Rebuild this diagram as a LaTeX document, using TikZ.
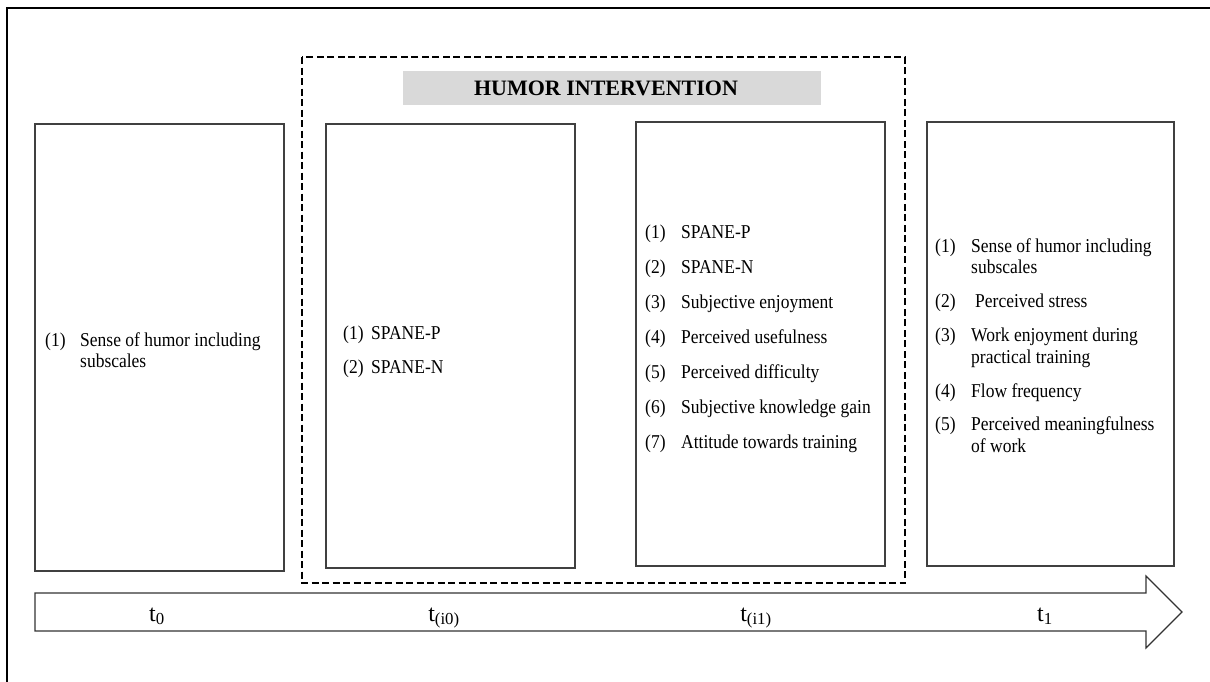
\documentclass[tikz,border=0pt]{standalone}
\usepackage{fontspec}
\setmainfont{Liberation Serif}
% list text is set slightly taller than wide
\newcommand{\tallbox}[1]{\scalebox{1}[1.12]{#1}}
\begin{document}
\begin{tikzpicture}[x=1pt,y=-1pt,
  panel/.style={draw=black!75,line width=1.2pt},
  item/.style={anchor=base west,inner sep=0pt,font=\fontsize{17.5}{19}\selectfont},
  tlabel/.style={anchor=base,inner sep=0pt,font=\fontsize{24}{26}\selectfont}]
\useasboundingbox (0,0) rectangle (1210,681);
\fill[white] (0,0) rectangle (1210,681);
% outer frame (left and top edges)
\draw[line width=2pt,line cap=rect] (7,681) -- (7,8) -- (1210,8);

% intervention phase frame and its title bar
\draw[line width=2.6pt,dash pattern=on 7pt off 3.5pt] (302,57) rectangle (905,583);
\fill[black!15] (403,71) rectangle (821,105);
\node[inner sep=0pt,font=\bfseries\fontsize{22}{24}\selectfont] (title) at (606,88) {HUMOR INTERVENTION};

% measurement panels
\draw[panel] (35,124) rectangle (284,571);
\draw[panel] (326,124) rectangle (575,568);
\draw[panel] (636,122) rectangle (885,566);
\draw[panel] (927,122) rectangle (1174,566);

% panel t0
\node[item] (a1n) at (45,346) {\tallbox{(1)}};
\node[item] (a1a) at (80,346) {\tallbox{Sense of humor including}};
\node[item] (a1b) at (80,367) {\tallbox{subscales}};

% panel t(i0)
\node[item] (b1n) at (343,339) {\tallbox{(1)}};
\node[item] (b1a) at (371,339) {\tallbox{SPANE-P}};
\node[item] (b2n) at (343,373) {\tallbox{(2)}};
\node[item] (b2a) at (371,373) {\tallbox{SPANE-N}};

% panel t(i1)
\foreach \k/\y/\txt in {1/238/SPANE-P, 2/273/SPANE-N, 3/308/Subjective enjoyment,
    4/343/Perceived usefulness, 5/378/Perceived difficulty,
    6/413/Subjective knowledge gain, 7/448/Attitude towards training}{
  \node[item] (c\k n) at (645,\y) {\tallbox{(\k)}};
  \node[item] (c\k a) at (681,\y) {\tallbox{\txt}};
}

% panel t1
\node[item] (d1n) at (935,252) {\tallbox{(1)}};
\node[item] (d1a) at (971,252) {\tallbox{Sense of humor including}};
\node[item] (d1b) at (971,273) {\tallbox{subscales}};
\node[item] (d2n) at (935,307) {\tallbox{(2)}};
\node[item] (d2a) at (975,307) {\tallbox{Perceived stress}};
\node[item] (d3n) at (935,341) {\tallbox{(3)}};
\node[item] (d3a) at (971,341) {\tallbox{Work enjoyment during}};
\node[item] (d3b) at (971,363) {\tallbox{practical training}};
\node[item] (d4n) at (935,397) {\tallbox{(4)}};
\node[item] (d4a) at (971,397) {\tallbox{Flow frequency}};
\node[item] (d5n) at (935,430) {\tallbox{(5)}};
\node[item] (d5a) at (971,430) {\tallbox{Perceived meaningfulness}};
\node[item] (d5b) at (971,452) {\tallbox{of work}};

% time axis
\draw[draw=black!80,line width=1.2pt,line join=miter,fill=white]
  (35,593) -- (1146,593) -- (1146,576) -- (1182,612) -- (1146,648)
  -- (1146,631) -- (35,631) -- cycle;
\node[tlabel] (t0) at (157,621) {t\textsubscript{0}};
\node[tlabel] (ti0) at (444,621) {t\textsubscript{(i0)}};
\node[tlabel] (ti1) at (756,621) {t\textsubscript{(i1)}};
\node[tlabel] (t1) at (1045,621) {t\textsubscript{1}};
\end{tikzpicture}
\end{document}
